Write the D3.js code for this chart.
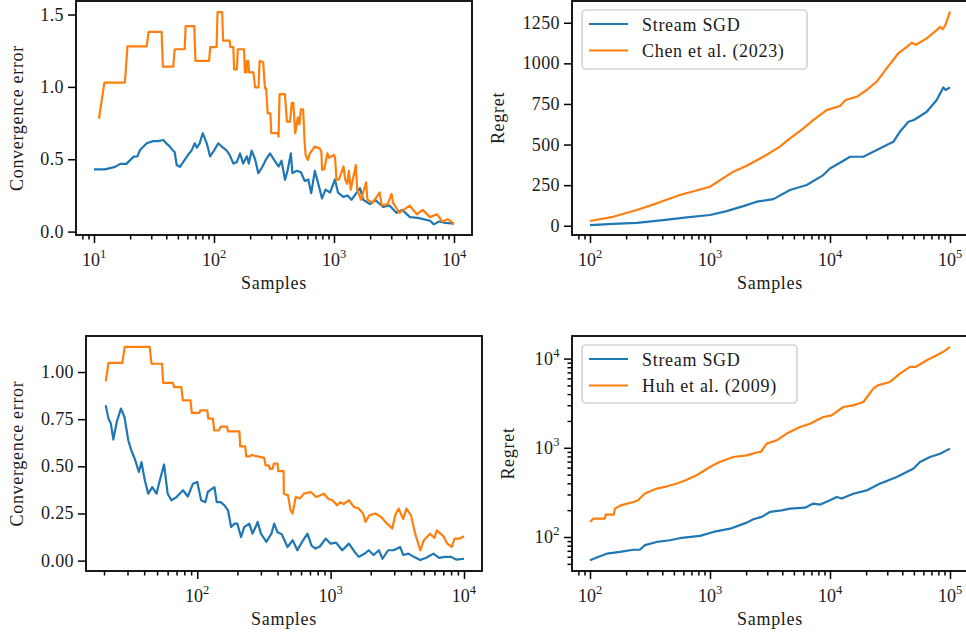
<!DOCTYPE html>
<html>
<head>
<meta charset="utf-8">
<script src="https://cdn.jsdelivr.net/npm/d3@7"></script>
<style>
  html, body { margin: 0; padding: 0; background: #fff; }
  svg { display: block; }
  text { font-family: "Liberation Serif", "DejaVu Serif", serif; }
</style>
</head>
<body>
<svg id="chart" width="966" height="634"></svg>
<script>
// ---------------- DATA ----------------
const seriesNames = ["Stream SGD", "Chen et al. (2023)", "Huh et al. (2009)"];
const xLabel = "Samples";
const yLabelError = "Convergence error";
const yLabelRegret = "Regret";
const tlYTicks = [0.0, 0.5, 1.0, 1.5];
const trYTicks = [0, 250, 500, 750, 1000, 1250];
const blYTicks = [0.00, 0.25, 0.50, 0.75, 1.00];
const brYTicks = [100, 1000, 10000];

// top-left: convergence error
const tlSgd = [[10,0.43],[12.3,0.43],[15,0.447],[16.5,0.468],[18.6,0.468],[21.4,0.518],[23,0.52],[24.2,0.564],[27.5,0.61],[31.2,0.625],[34,0.625],[37.8,0.633],[40,0.61],[43,0.587],[45,0.564],[47,0.55],[48.9,0.46],[52,0.447],[57,0.495],[62,0.54],[65,0.56],[69,0.61],[72,0.58],[76,0.61],[80.5,0.68],[87,0.61],[92.7,0.52],[100,0.56],[108.6,0.61],[115,0.59],[127.6,0.56],[135,0.53],[145,0.47],[155,0.48],[165,0.54],[175,0.47],[188,0.52],[195,0.47],[206,0.56],[220,0.50],[234,0.404],[250,0.44],[270,0.495],[293,0.54],[320,0.49],[345,0.45],[365,0.49],[391,0.358],[410,0.42],[437,0.54],[450,0.404],[490,0.42],[530,0.41],[570,0.35],[610,0.36],[646,0.266],[692,0.42],[740,0.33],[794,0.23],[850,0.29],[927,0.27],[1018,0.36],[1080,0.27],[1197,0.24],[1300,0.25],[1400,0.22],[1648,0.30],[1750,0.22],[1995,0.19],[2200,0.22],[2560,0.17],[2900,0.18],[3311,0.13],[3700,0.15],[4300,0.10],[5000,0.095],[6310,0.075],[6800,0.05],[7500,0.07],[8500,0.06],[10000,0.055]];
const tlChen = [[11,0.78],[12.2,1.03],[18.1,1.03],[19,1.28],[27.5,1.28],[28.5,1.38],[36.6,1.38],[37.5,1.14],[45.8,1.14],[47,1.26],[57,1.26],[58,1.42],[68.5,1.42],[70,1.18],[91,1.18],[93,1.275],[105,1.275],[107,1.516],[117,1.516],[119,1.32],[135,1.32],[137,1.275],[145,1.275],[147,1.12],[155,1.12],[158,1.26],[178,1.26],[181,1.10],[186,1.10],[188,1.18],[193,1.18],[196,1.10],[213,1.10],[220,0.996],[235,0.996],[240,1.18],[257,1.17],[266,0.99],[272,0.99],[280,0.817],[295,0.817],[300,0.68],[340,0.68],[345,0.656],[352,0.95],[390,0.95],[405,0.76],[430,0.76],[445,0.89],[458,0.89],[475,0.68],[500,0.79],[515,0.74],[530,0.845],[553,0.845],[568,0.633],[580,0.53],[605,0.495],[630,0.54],[690,0.587],[760,0.575],[785,0.55],[795,0.427],[830,0.43],[880,0.54],[910,0.51],[1000,0.53],[1020,0.51],[1050,0.358],[1100,0.36],[1200,0.45],[1240,0.36],[1290,0.33],[1330,0.42],[1380,0.29],[1520,0.46],[1560,0.29],[1680,0.22],[1850,0.34],[1900,0.22],[2100,0.20],[2400,0.27],[2500,0.18],[2800,0.19],[3020,0.26],[3100,0.20],[3500,0.13],[4270,0.18],[4900,0.12],[5500,0.15],[6300,0.10],[7200,0.12],[8000,0.07],[8900,0.085],[10000,0.055]];

// top-right: regret (linear)
const trSgd = [[100,4],[156,11],[245,18],[407,35],[640,52],[1000,66],[1377,90],[1897,121],[2449,148],[3373,164],[4645,220],[6397,251],[8790,312],[10000,353],[12100,388],[14690,425],[18970,425],[22960,456],[27800,487],[33730,517],[38280,579],[44980,640],[50000,651],[64000,702],[77450,774],[87900,852],[92000,836],[100000,852]];
const trChen = [[100,29],[156,55],[245,97],[360,138],[562,189],[1000,240],[1563,333],[2023,369],[2780,425],[3828,487],[4645,538],[6000,600],[7261,651],[9376,712],[12100,737],[13500,774],[16670,794],[20230,836],[24490,887],[29650,969],[37150,1062],[43650,1102],[48000,1127],[52000,1115],[64000,1154],[77450,1205],[83000,1225],[87000,1210],[92000,1240],[100000,1318]];

// bottom-left: convergence error
const blSgd = [[20.6,0.824],[21.6,0.753],[22.5,0.727],[23.5,0.642],[24.9,0.735],[26.8,0.806],[28.5,0.76],[30.4,0.638],[32,0.585],[34,0.54],[36.5,0.47],[38.2,0.522],[40.5,0.425],[42.9,0.355],[46,0.39],[49.5,0.355],[51.6,0.408],[56.4,0.51],[60,0.355],[64,0.32],[70,0.337],[78.2,0.373],[85,0.34],[92.9,0.408],[100,0.417],[107,0.32],[115,0.31],[120,0.364],[134.6,0.39],[140,0.31],[150,0.31],[160,0.293],[170,0.267],[179.5,0.178],[190,0.196],[200,0.196],[212.8,0.125],[225,0.178],[245.5,0.196],[260,0.143],[284,0.205],[300,0.143],[330,0.10],[360,0.143],[377.6,0.196],[400,0.15],[430,0.14],[475,0.072],[520,0.108],[563.6,0.055],[600,0.09],[670,0.143],[720,0.08],[770,0.064],[830,0.075],[918,0.117],[1000,0.09],[1100,0.095],[1222,0.055],[1371,0.09],[1500,0.05],[1626,0.02],[1780,0.035],[1932,0.055],[2100,0.03],[2300,0.055],[2450,0.01],[2700,0.055],[2971,0.055],[3327,0.072],[3500,0.03],[3837,0.037],[4200,0.02],[4699,0.003],[5200,0.015],[5902,0.037],[6500,0.015],[7200,0.02],[8000,0.02],[8800,0.005],[10000,0.01]];
const blChen = [[20.6,0.95],[21.6,1.048],[27.4,1.048],[28.6,1.133],[44,1.133],[45.4,1.044],[54.5,1.044],[55.5,0.942],[65.8,0.942],[67,0.92],[76,0.92],[78,0.85],[89,0.85],[91,0.783],[104,0.783],[105.5,0.797],[119,0.797],[121,0.753],[131,0.753],[134,0.69],[145,0.69],[150,0.71],[167.5,0.71],[170,0.685],[207,0.685],[210,0.606],[229,0.606],[233,0.553],[250,0.553],[255,0.56],[318,0.545],[325,0.505],[345,0.505],[350,0.487],[367,0.487],[375,0.514],[400,0.514],[405,0.475],[444,0.475],[446,0.355],[480,0.346],[500,0.267],[518,0.25],[548,0.337],[590,0.33],[631,0.355],[710,0.364],[780,0.337],[891,0.355],[960,0.328],[1030,0.32],[1122,0.293],[1180,0.31],[1250,0.30],[1371,0.32],[1500,0.284],[1626,0.276],[1750,0.25],[1824,0.205],[1950,0.24],[2168,0.25],[2400,0.23],[2649,0.196],[2900,0.17],[3050,0.24],[3236,0.276],[3500,0.22],[3700,0.276],[4000,0.24],[4305,0.143],[4699,0.055],[5000,0.108],[5572,0.143],[6000,0.12],[6252,0.16],[7000,0.13],[7500,0.09],[8091,0.073],[8500,0.117],[9300,0.117],[10000,0.129]];

// bottom-right: regret (log)
const brSgd = [[100,55],[113.8,59],[137.7,65],[177.8,68],[229.6,72],[260,72],[287,81],[360,88],[464,92],[581,98],[826,103],[1067,114],[1469,124],[2023,145],[2297,158],[2698,168],[3162,191],[3954,199],[4645,208],[6194,213],[7261,237],[8300,231],[10000,258],[11380,281],[12500,270],[15630,305],[20230,333],[22960,363],[26120,398],[30000,426],[35970,471],[43550,536],[49430,583],[56230,693],[68080,789],[82600,859],[100000,979]];
const brHuh = [[100,147],[106.6,161],[133,161],[135,178],[158,178],[161,208],[180,226],[229.6,247],[250,257],[287,307],[360,349],[420,364],[528,398],[620,430],[774,492],[1000,609],[1200,692],[1563,788],[2023,822],[2530,897],[2650,897],[2965,1114],[3597,1213],[4355,1442],[5623,1711],[6808,1862],[8790,2213],[10320,2307],[12910,2865],[15630,2990],[18970,3260],[22960,4600],[25000,5010],[31620,5470],[38280,6790],[46450,8060],[52000,8060],[64000,9570],[77450,10900],[88000,11900],[100000,13500]];

// ---------------- DRAWING ----------------
const BLUE = "#1f77b4", ORANGE = "#ff7f0e";
const svg = d3.select("#chart");

function sup(sel, base, exp) {
  sel.append("tspan").text(base);
  sel.append("tspan").attr("font-size", 12.5).attr("dy", -8).text(exp);
}

function minorTicks(lo, hi) {
  const out = [];
  for (let e = Math.floor(Math.log10(lo)); e <= Math.ceil(Math.log10(hi)); e++) {
    for (let m = 2; m <= 9; m++) {
      const v = m * Math.pow(10, e);
      if (v >= lo && v <= hi) out.push(v);
    }
  }
  return out;
}

function panel(c) {
  const g = svg.append("g");
  const x = d3.scaleLog().domain(c.xDomain).range([c.left, c.right]);
  const y = (c.yLog ? d3.scaleLog() : d3.scaleLinear()).domain(c.yDomain).range([c.bottom, c.top]);

  const clipId = "clip" + c.id;
  svg.append("clipPath").attr("id", clipId).append("rect")
    .attr("x", c.left).attr("y", c.top).attr("width", c.right - c.left).attr("height", c.bottom - c.top);

  const line = d3.line().x(d => x(d[0])).y(d => y(d[1]));
  c.series.forEach(s => {
    g.append("path").datum(s.data)
      .attr("clip-path", `url(#${clipId})`)
      .attr("fill", "none").attr("stroke", s.color).attr("stroke-width", 2.2)
      .attr("stroke-linejoin", "round").attr("d", line);
  });

  const xMajor = c.xMajor;
  const xa = g.append("g").attr("transform", `translate(0,${c.bottom})`)
    .call(d3.axisBottom(x).tickValues(xMajor).tickSize(8).tickFormat(""));
  const xm = g.append("g").attr("transform", `translate(0,${c.bottom})`)
    .call(d3.axisBottom(x).tickValues(minorTicks(c.xDomain[0], c.xDomain[1])).tickSize(4.5).tickFormat(""));
  [xa, xm].forEach(a => { a.select(".domain").remove(); a.selectAll("line").attr("stroke", "#000").attr("stroke-width", 1.5); });
  xMajor.forEach(v => {
    const t = g.append("text").attr("x", x(v)).attr("y", c.bottom + 31)
      .attr("text-anchor", "middle").attr("font-size", 18).attr("fill", "#1a1a1a");
    sup(t, "10", String(Math.round(Math.log10(v))));
  });

  const ya = g.append("g").attr("transform", `translate(${c.left},0)`)
    .call(d3.axisLeft(y).tickValues(c.yTicks).tickSize(8).tickFormat(""));
  ya.select(".domain").remove();
  ya.selectAll("line").attr("stroke", "#000").attr("stroke-width", 1.5);
  if (c.yLog) {
    const ym = g.append("g").attr("transform", `translate(${c.left},0)`)
      .call(d3.axisLeft(y).tickValues(minorTicks(c.yDomain[0], c.yDomain[1])).tickSize(4.5).tickFormat(""));
    ym.select(".domain").remove();
    ym.selectAll("line").attr("stroke", "#000").attr("stroke-width", 1.5);
  }
  c.yTicks.forEach(v => {
    const t = g.append("text").attr("x", c.left - 12).attr("y", y(v) + 6)
      .attr("text-anchor", "end").attr("font-size", 18).attr("fill", "#1a1a1a")
      .attr("letter-spacing", 0.4);
    if (c.yLog) sup(t, "10", String(Math.round(Math.log10(v))));
    else t.text(c.yFmt(v));
  });

  g.append("rect").attr("x", c.left).attr("y", c.top)
    .attr("width", c.right - c.left).attr("height", c.bottom - c.top)
    .attr("fill", "none").attr("stroke", "#000").attr("stroke-width", 1.8);

  g.append("text").attr("x", (c.left + Math.min(c.right, 968)) / 2).attr("y", c.bottom + 54)
    .attr("text-anchor", "middle").attr("font-size", 18)
    .attr("letter-spacing", 0.7).attr("fill", "#1a1a1a").text(xLabel);
  g.append("text").attr("transform", `translate(${c.yLabelX},${(c.top + c.bottom) / 2}) rotate(-90)`)
    .attr("text-anchor", "middle").attr("font-size", 18)
    .attr("letter-spacing", 0.7).attr("fill", "#1a1a1a").text(c.yLabel);

  if (c.legend) {
    const L = c.legend;
    g.append("rect").attr("x", L.x).attr("y", L.y).attr("width", L.w).attr("height", L.h)
      .attr("rx", 4).attr("fill", "#fff").attr("fill-opacity", 0.8)
      .attr("stroke", "#d3d3d3").attr("stroke-width", 1.6);
    c.series.forEach((s, i) => {
      const ly = L.y + 14 + i * 26.5;
      g.append("line").attr("x1", L.x + 7).attr("x2", L.x + 46).attr("y1", ly).attr("y2", ly)
        .attr("stroke", s.color).attr("stroke-width", 2.2);
      g.append("text").attr("x", L.x + 60).attr("y", ly + 6.5)
        .attr("font-size", 18).attr("letter-spacing", 0.7)
        .attr("fill", "#1a1a1a").attr("xml:space", "preserve").text(s.name);
    });
  }
}

panel({
  id: "tl", left: 76, right: 472, top: 1, bottom: 235,
  xDomain: [Math.pow(10, 0.85), Math.pow(10, 4.15)], xMajor: [10, 100, 1000, 10000],
  yDomain: [-0.0235, 1.5935], yTicks: tlYTicks, yFmt: d3.format(".1f"),
  yLabel: yLabelError, yLabelX: 23,
  series: [{ data: tlSgd, color: BLUE }, { data: tlChen, color: ORANGE }]
});

panel({
  id: "tr", left: 572, right: 968, top: 1, bottom: 235,
  xDomain: [Math.pow(10, 1.85), Math.pow(10, 5.15)], xMajor: [100, 1000, 10000, 100000],
  yDomain: [-57, 1384], yTicks: trYTicks, yFmt: d3.format("d"),
  yLabel: yLabelRegret, yLabelX: 504,
  series: [{ data: trSgd, color: BLUE, name: seriesNames[0] }, { data: trChen, color: ORANGE, name: seriesNames[1] }],
  legend: { x: 582, y: 10, w: 225, h: 59 }
});

panel({
  id: "bl", left: 86, right: 482, top: 336, bottom: 571,
  xDomain: [Math.pow(10, 1.166), Math.pow(10, 4.135)], xMajor: [100, 1000, 10000],
  yDomain: [-0.055, 1.191], yTicks: blYTicks, yFmt: d3.format(".2f"),
  yLabel: yLabelError, yLabelX: 23,
  series: [{ data: blSgd, color: BLUE }, { data: blChen, color: ORANGE }]
});

panel({
  id: "br", left: 572, right: 968, top: 336, bottom: 571,
  xDomain: [Math.pow(10, 1.85), Math.pow(10, 5.15)], xMajor: [100, 1000, 10000, 100000],
  yLog: true, yDomain: [Math.pow(10, 1.619), Math.pow(10, 4.253)], yTicks: brYTicks,
  yLabel: yLabelRegret, yLabelX: 514,
  series: [{ data: brSgd, color: BLUE, name: seriesNames[0] }, { data: brHuh, color: ORANGE, name: seriesNames[2] }],
  legend: { x: 582, y: 345, w: 215, h: 58 }
});
</script>
</body>
</html>
